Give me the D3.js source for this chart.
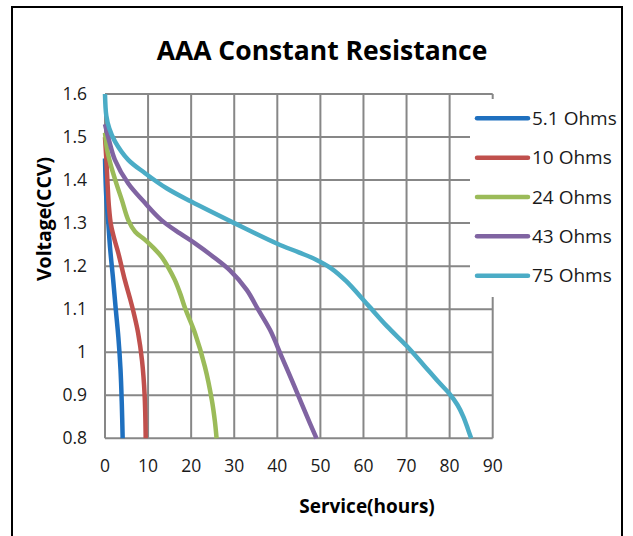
<!DOCTYPE html>
<html>
<head>
<meta charset="utf-8">
<script src="https://cdn.jsdelivr.net/npm/d3@7"></script>
<style>
  html, body { margin: 0; padding: 0; background: #fff; }
  svg { display: block; font-family: "Open Sans", "Noto Sans", sans-serif; }
</style>
</head>
<body>
<svg id="chart" width="633" height="536"></svg>
<script>
// series names + colours
const seriesNames = ["5.1 Ohms", "10 Ohms", "24 Ohms", "43 Ohms", "75 Ohms"];
const seriesColors = ["#1f70bf", "#c0504d", "#9bbb59", "#8064a2", "#4bacc6"];

// [hours, volts]
const ohms51 = [[0, 1.45], [0.3, 1.36], [0.77, 1.3], [1.2, 1.24], [1.9, 1.168], [2.5, 1.1],
  [3.1, 1.035], [3.6, 0.96], [3.9, 0.88], [4.1, 0.8]];
const ohms10 = [[0, 1.5], [0.3, 1.45], [0.6, 1.39], [0.9, 1.34], [1.4, 1.295], [2.2, 1.262], [3.1, 1.23],
  [4.6, 1.168], [5.8, 1.125], [6.7, 1.09], [7.7, 1.044], [8.6, 0.98], [9.2, 0.9], [9.45, 0.8]];
const ohms24 = [[0, 1.51], [0.5, 1.47], [1.2, 1.44], [2.7, 1.39], [3.9, 1.354], [5.4, 1.307], [7, 1.28],
  [9.3, 1.261], [11.5, 1.24], [13.1, 1.222], [14.8, 1.195], [16.2, 1.168], [17.5, 1.135], [18.6, 1.102],
  [20.9, 1.044], [23.2, 0.966], [24.8, 0.889], [25.5, 0.84], [25.9, 0.8]];
const ohms43 = [[0, 1.53], [1, 1.49], [2.3, 1.447], [5.4, 1.392], [9, 1.35], [13.1, 1.307], [17.4, 1.276],
  [20.9, 1.253], [25.1, 1.222], [29, 1.19], [32.9, 1.145], [35.5, 1.1], [38.3, 1.052], [41, 0.99],
  [44, 0.92], [46.5, 0.86], [49.1, 0.8]];
const ohms75 = [[0, 1.6], [0.3, 1.55], [1, 1.52], [2.3, 1.49], [5.4, 1.447], [9.3, 1.416], [14.3, 1.381],
  [20, 1.35], [30, 1.3], [40, 1.252], [45, 1.232], [49, 1.215], [52.5, 1.195], [56, 1.165], [61, 1.11],
  [65.5, 1.06], [70, 1.015], [74, 0.97], [77.5, 0.93], [80, 0.903], [81.8, 0.878], [83.2, 0.85],
  [84.3, 0.82], [85, 0.8]];
const seriesValues = [ohms51, ohms10, ohms24, ohms43, ohms75];

const xTicks = [0, 10, 20, 30, 40, 50, 60, 70, 80, 90];
const yTicks = [0.8, 0.9, 1.0, 1.1, 1.2, 1.3, 1.4, 1.5, 1.6];
const yTickLabels = ["0.8", "0.9", "1", "1.1", "1.2", "1.3", "1.4", "1.5", "1.6"];

const svg = d3.select("#chart");
const x = d3.scaleLinear().domain([0, 90]).range([105, 492.7]);
const y = d3.scaleLinear().domain([0.8, 1.6]).range([438.3, 94]);
const gridColor = "#878787";

// outer frame
svg.append("rect")
  .attr("x", 12).attr("y", 7).attr("width", 610).attr("height", 540)
  .attr("fill", "none").attr("stroke", "#000").attr("stroke-width", 2);

// title
svg.append("text")
  .attr("x", 322).attr("y", 60)
  .attr("text-anchor", "middle")
  .attr("font-size", 26.5).attr("font-weight", 700).attr("fill", "#000")
  .text("AAA Constant Resistance");

// grid
const grid = svg.append("g").attr("stroke", gridColor).attr("stroke-width", 2);
grid.selectAll("line.v").data(xTicks).join("line")
  .attr("class", "v")
  .attr("x1", d => x(d)).attr("x2", d => x(d))
  .attr("y1", y(1.6)).attr("y2", y(0.8));
grid.selectAll("line.h").data(yTicks).join("line")
  .attr("class", "h")
  .attr("x1", x(0)).attr("x2", x(90))
  .attr("y1", d => y(d)).attr("y2", d => y(d));

// legend box sits over the right part of the grid
const legX = 470, legY = 99;
svg.append("rect")
  .attr("x", legX).attr("y", legY).attr("width", 150).attr("height", 198)
  .attr("fill", "#fff");

// tick labels
svg.append("g").selectAll("text").data(yTicks).join("text")
  .attr("x", 87).attr("y", d => y(d))
  .attr("dy", "0.35em")
  .attr("text-anchor", "end")
  .attr("font-size", 17.5).attr("fill", "#1a1a1a")
  .text((d, i) => yTickLabels[i]);
svg.append("g").selectAll("text").data(xTicks).join("text")
  .attr("x", d => x(d)).attr("y", 472)
  .attr("text-anchor", "middle")
  .attr("font-size", 17.5).attr("fill", "#1a1a1a")
  .text(d => d);

// axis titles
svg.append("text")
  .attr("x", 367).attr("y", 513)
  .attr("text-anchor", "middle")
  .attr("font-size", 19).attr("font-weight", 700).attr("fill", "#000")
  .text("Service(hours)");
svg.append("text")
  .attr("transform", "translate(51,219) rotate(-90)")
  .attr("text-anchor", "middle")
  .attr("font-size", 19.5).attr("font-weight", 700).attr("fill", "#000")
  .text("Voltage(CCV)");

// curves
const line = d3.line()
  .x(d => x(d[0])).y(d => y(d[1]))
  .curve(d3.curveCatmullRom.alpha(0.5));
svg.append("g").selectAll("path").data(seriesValues).join("path")
  .attr("d", line)
  .attr("fill", "none")
  .attr("stroke", (d, i) => seriesColors[i])
  .attr("stroke-width", 4.5)
  .attr("stroke-linejoin", "round");

// legend
const leg = svg.append("g").selectAll("g").data(seriesNames).join("g")
  .attr("transform", (d, i) => `translate(0,${118.3 + i * 39.35})`);
leg.append("line")
  .attr("x1", 477).attr("x2", 528)
  .attr("stroke", (d, i) => seriesColors[i])
  .attr("stroke-width", 4.5).attr("stroke-linecap", "round");
leg.append("text")
  .attr("x", 532).attr("dy", "0.35em")
  .attr("font-size", 19).attr("fill", "#1a1a1a")
  .text(d => d);
</script>
</body>
</html>
